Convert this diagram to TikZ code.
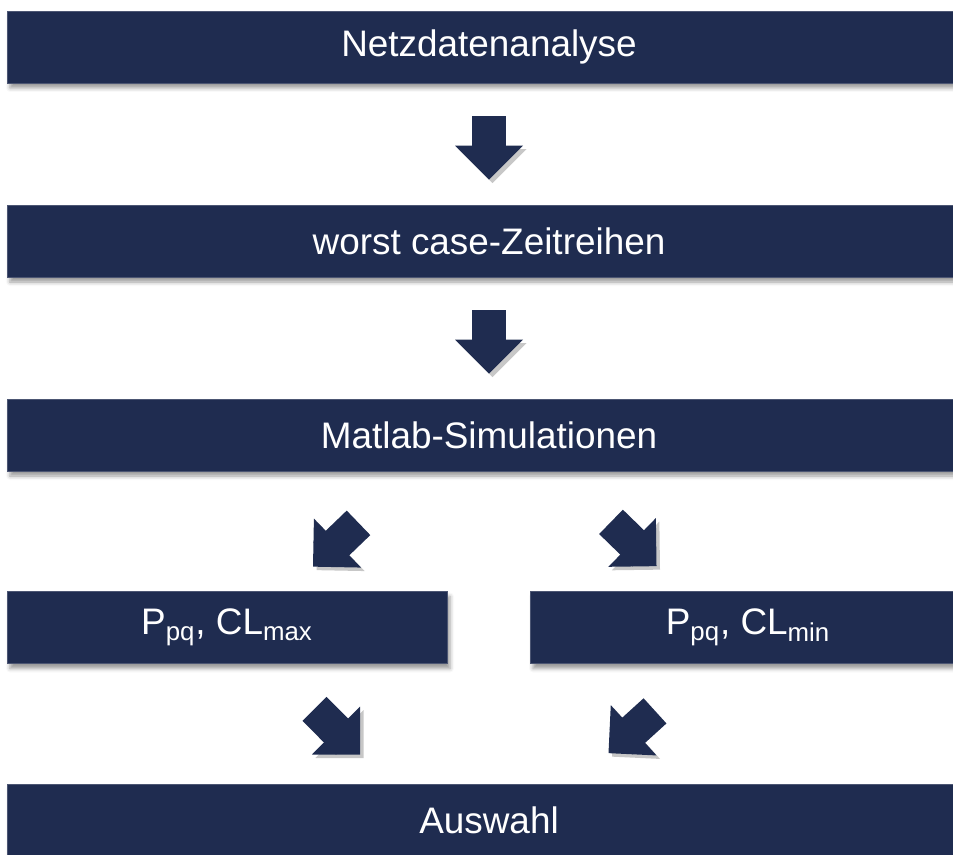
\documentclass[tikz,border=0pt]{standalone}
\usepackage{fontspec}
\setmainfont{Liberation Sans}
\usepackage{tikz}
\usetikzlibrary{arrows.meta, calc, shadows.blur}
\definecolor{navy}{HTML}{1F2C50}
\tikzset{
    kasten/.style = {fill=navy, draw=navy!80!white, line width=0.4pt, text=white,
                     font=\fontsize{21}{25}\selectfont, minimum height=1.44cm, inner sep=0pt,
                     blur shadow={shadow xshift=0.06cm, shadow yshift=-0.1cm, shadow blur radius=0.08cm}},
    breit/.style  = {kasten, minimum width=19.28cm},
    pfeil/.style  = {navy, line width=0.68cm, line cap=rect, shorten <=0.34cm,
                     -{Triangle[length=0.68cm, width=1.36cm, line width=0pt]},
                     preaction={draw=black!22, transform canvas={shift={(0.07,-0.07)}}}},
}

\begin{document}
\begin{tikzpicture}
    \useasboundingbox (0,0) rectangle (19.06,-17.1);
    \node[breit] (netz) at (9.78,-0.94) {Netzdatenanalyse};
    \node[breit] (zeit) at (9.78,-4.82) {worst case-Zeitreihen};
    \node[breit] (sim) at (9.78,-8.70) {Matlab-Simulationen};
    \node[kasten, minimum width=8.8cm] (pmax) at (4.54,-12.55) {P\textsubscript{pq}, CL\textsubscript{max}};
    \node[kasten, minimum width=8.72cm] (pmin) at (14.96,-12.55) {P\textsubscript{pq}, CL\textsubscript{min}};
    \node[breit] (wahl) at (9.78,-16.40) {Auswahl};

    \draw[pfeil, shorten <=1.0cm, shorten >=0.5cm] (netz) -- (zeit);
    \draw[pfeil, shorten <=1.0cm, shorten >=0.5cm] (zeit) -- (sim);

    \coordinate (s1) at ($(sim.south)+(-2.61,-1.03)$);
    \coordinate (e1) at ($(pmax.north)+(1.72,0.49)$);
    \coordinate (s2) at ($(sim.south)+(2.44,-1.01)$);
    \coordinate (e2) at ($(pmin.north)+(-1.83,0.50)$);
    \coordinate (s3) at ($(pmax.south)+(1.75,-0.90)$);
    \coordinate (e3) at ($(wahl.north)+(-2.58,0.58)$);
    \coordinate (s4) at ($(pmin.south)+(-1.86,-0.94)$);
    \coordinate (e4) at ($(wahl.north)+(2.39,0.61)$);
    \draw[pfeil] (s1) -- (e1);
    \draw[pfeil] (s2) -- (e2);
    \draw[pfeil] (s3) -- (e3);
    \draw[pfeil] (s4) -- (e4);
\end{tikzpicture}
\end{document}
